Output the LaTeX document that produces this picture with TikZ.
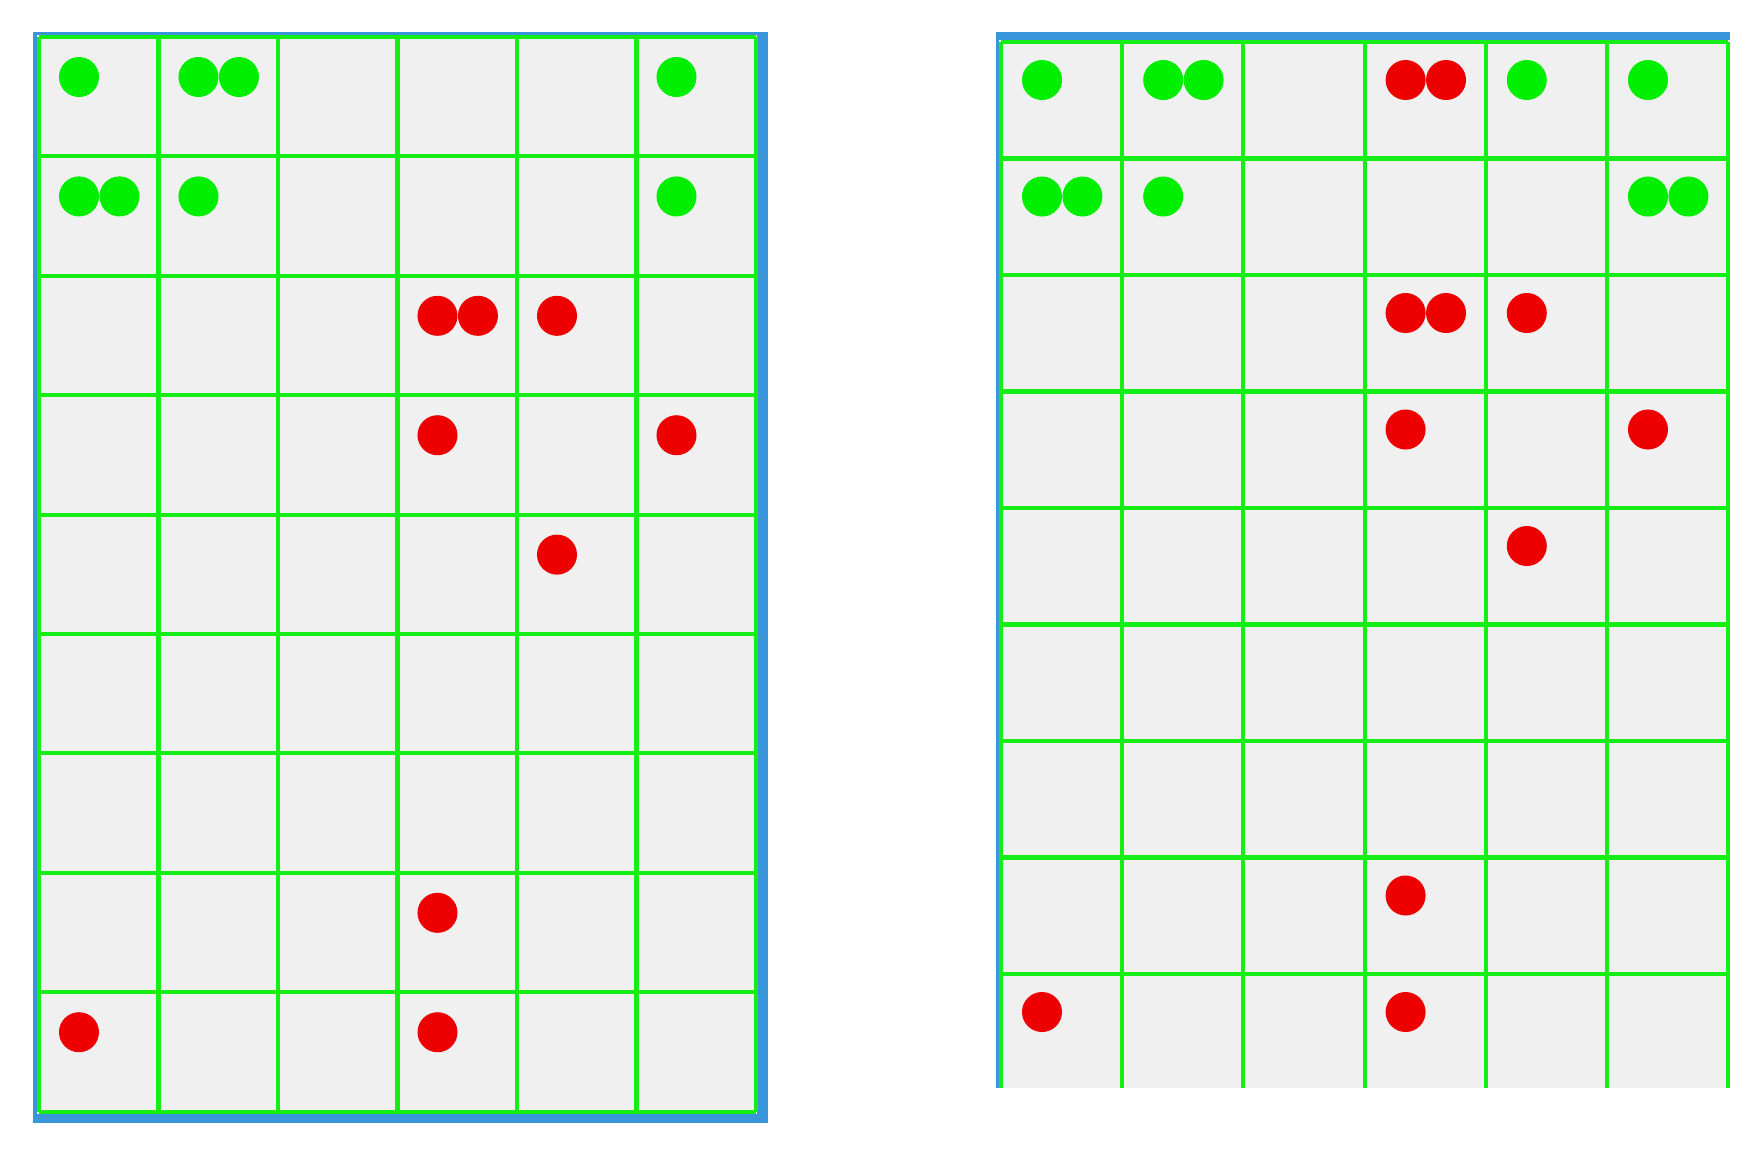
\documentclass[tikz,border=0pt]{standalone}
\usetikzlibrary{positioning}
\definecolor{Cell}{HTML}{F0F0F0}
\definecolor{Line}{HTML}{14EE14}
\definecolor{Frame}{HTML}{3A96DA}
\definecolor{Good}{HTML}{00EE00}
\definecolor{Bad}{HTML}{EE0000}
\tikzset{
  frame/.style={fill=Frame},
  board/.style={fill=Cell},
  gridline/.style={draw=Line,line width=1.15pt},
  gdot/.style={circle,fill=Good,minimum size=.4cm,inner sep=0pt},
  rdot/.style={circle,fill=Bad,minimum size=.4cm,inner sep=0pt}
}

\begin{document}
\begin{tikzpicture}[x=.01cm,y=-.01cm]
        \useasboundingbox (0,0) rectangle (1762,1156);

        % left board
        \fill[frame] (33,32) rectangle (768,1123);
        \fill[board] (37,35) rectangle (757,1114);
        \foreach \i in {0,...,6} \draw[gridline] ({39+\i*119.5},37) -- ({39+\i*119.5},1112);
        \foreach \j in {0,...,9} \draw[gridline] (39,{37+\j*119.4}) -- (756,{37+\j*119.4});

        \foreach \c/\r/\s in {0/0/gdot,1/0/gdot,5/0/gdot,0/1/gdot,1/1/gdot,5/1/gdot,
                               3/2/rdot,4/2/rdot,3/3/rdot,5/3/rdot,4/4/rdot,3/7/rdot,0/8/rdot,3/8/rdot}
          \node[\s] (l\c\r) at ({79+\c*119.5},{77+\r*119.4}) {};
        \node[gdot,right=-.01cm of l10] (l10b) {};
        \node[gdot,right=-.01cm of l01] (l01b) {};
        \node[rdot,right=-.01cm of l32] (l32b) {};

        % right board
        \fill[frame] (996,32) rectangle (1730,1088);
        \fill[board] (999,40) rectangle (1730,1088);
        \foreach \i in {0,...,6} \draw[gridline] ({1001+\i*121.2},42) -- ({1001+\i*121.2},1088);
        \foreach \j in {0,...,8} \draw[gridline] (1001,{42+\j*116.5}) -- (1728,{42+\j*116.5});

        \foreach \c/\r/\s in {0/0/gdot,1/0/gdot,3/0/rdot,4/0/gdot,5/0/gdot,0/1/gdot,1/1/gdot,5/1/gdot,
                               3/2/rdot,4/2/rdot,3/3/rdot,5/3/rdot,4/4/rdot,3/7/rdot,0/8/rdot,3/8/rdot}
          \node[\s] (r\c\r) at ({1042+\c*121.2},{80+\r*116.5}) {};
        \node[gdot,right=-.01cm of r10] (r10b) {};
        \node[rdot,right=-.01cm of r30] (r30b) {};
        \node[gdot,right=-.01cm of r01] (r01b) {};
        \node[gdot,right=-.01cm of r51] (r51b) {};
        \node[rdot,right=-.01cm of r32] (r32b) {};
      \end{tikzpicture}
\end{document}
